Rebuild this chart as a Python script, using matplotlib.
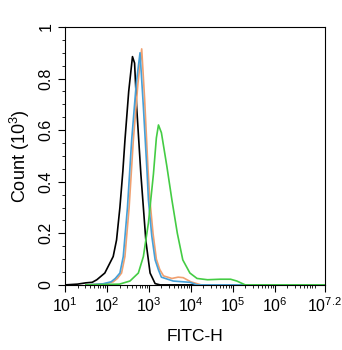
import numpy as np
import matplotlib.pyplot as plt
from matplotlib.ticker import LogLocator, FixedLocator, MultipleLocator, NullFormatter

plt.rcParams['font.family'] = ['Liberation Sans', 'DejaVu Sans']
plt.rcParams['mathtext.fontset'] = 'custom'
plt.rcParams['mathtext.rm'] = 'Liberation Sans'
plt.rcParams['mathtext.it'] = 'Liberation Sans:italic'

# log10(FITC-H) positions and counts (x10^3)
black_x = [1.0, 1.3, 1.5, 1.65, 1.76, 1.95, 2.15, 2.23, 2.31, 2.38, 2.43, 2.52, 2.61, 2.66, 2.71, 2.81, 2.93, 3.03, 3.15, 3.27, 7.2]
black_y = [0.0, 0.003, 0.008, 0.01, 0.02, 0.046, 0.11, 0.174, 0.30, 0.44, 0.56, 0.75, 0.885, 0.86, 0.69, 0.43, 0.17, 0.046, 0.005, 0.0, 0.0]

orange_x = [1.5, 1.95, 2.15, 2.25, 2.35, 2.43, 2.53, 2.63, 2.74, 2.83, 2.9, 2.98, 3.02, 3.1, 3.18, 3.26, 3.35, 3.55, 3.7, 3.82, 4.0, 4.25, 7.2]
orange_y = [0.0, 0.004, 0.012, 0.025, 0.046, 0.11, 0.30, 0.56, 0.78, 0.915, 0.72, 0.45, 0.34, 0.2, 0.1, 0.06, 0.035, 0.025, 0.03, 0.028, 0.012, 0.0, 0.0]

blue_x = [1.5, 1.9, 2.1, 2.2, 2.31, 2.39, 2.49, 2.59, 2.7, 2.79, 2.87, 2.96, 2.99, 3.07, 3.15, 3.23, 3.3, 3.58, 3.98, 4.15, 7.2]
blue_y = [0.0, 0.004, 0.012, 0.025, 0.046, 0.11, 0.30, 0.56, 0.78, 0.9, 0.69, 0.43, 0.33, 0.19, 0.097, 0.058, 0.03, 0.015, 0.01, 0.0, 0.0]

green_x = [1.5, 2.3, 2.55, 2.75, 2.87, 2.99, 3.11, 3.18, 3.23, 3.3, 3.43, 3.55, 3.68, 3.81, 3.98, 4.15, 4.4, 4.7, 4.95, 5.1, 5.3, 7.2]
green_y = [0.0, 0.003, 0.015, 0.046, 0.11, 0.24, 0.43, 0.57, 0.62, 0.59, 0.46, 0.33, 0.2, 0.097, 0.046, 0.025, 0.02, 0.022, 0.022, 0.015, 0.0, 0.0]

xtick_pows = [1, 2, 3, 4, 5, 6, 7.2]
xtick_labels = ['$10^{1}$', '$10^{2}$', '$10^{3}$', '$10^{4}$', '$10^{5}$', '$10^{6}$', '$10^{7.2}$']
ytick_vals = [0, 0.2, 0.4, 0.6, 0.8, 1.0]
ytick_labels = ['0', '0.2', '0.4', '0.6', '0.8', '1']

fig = plt.figure(figsize=(3.42, 3.5), dpi=100)
ax = fig.add_axes([0.19, 0.186, 0.76, 0.737])

ax.plot(10 ** np.array(black_x), black_y, color='black', lw=1.2)
ax.plot(10 ** np.array(orange_x), orange_y, color='#f0a070', lw=1.2)
ax.plot(10 ** np.array(blue_x), blue_y, color='#45a0d8', lw=1.2)
ax.plot(10 ** np.array(green_x), green_y, color='#44cc44', lw=1.2)

ax.set_xscale('log')
ax.set_xlim(10 ** 1, 10 ** 7.2)
ax.set_ylim(0, 1)

ax.xaxis.set_major_locator(FixedLocator([10 ** p for p in xtick_pows]))
ax.set_xticklabels(xtick_labels)
ax.xaxis.set_minor_locator(LogLocator(base=10, subs=np.arange(2, 10), numticks=20))
ax.xaxis.set_minor_formatter(NullFormatter())

ax.set_yticks(ytick_vals)
ax.set_yticklabels(ytick_labels, rotation=90, va='center')
ax.yaxis.set_minor_locator(MultipleLocator(0.05))

ax.tick_params(which='major', direction='out', length=5, width=0.8, labelsize=11.5)
ax.tick_params(which='minor', direction='out', length=2.5, width=0.6)
ax.tick_params(axis='y', pad=3)

ax.set_xlabel('FITC-H', fontsize=12.5, labelpad=10)
ax.set_ylabel('Count ($10^{3}$)', fontsize=13, labelpad=5)

plt.savefig('out.png', dpi=100)
